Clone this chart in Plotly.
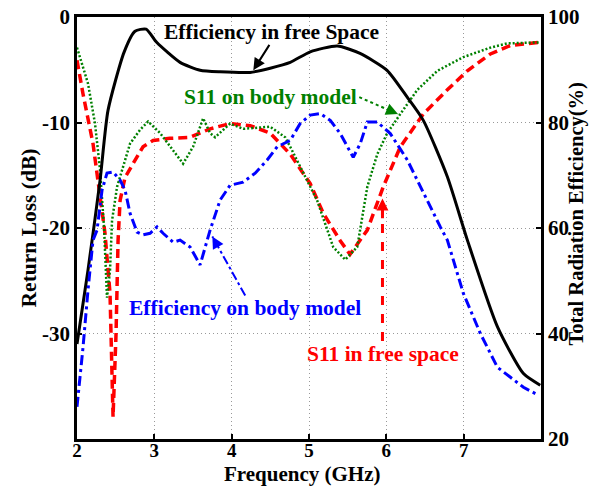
import plotly.graph_objects as go

# Efficiency in free space (%), right axis
eff_free_f = [2.0, 2.142, 2.298, 2.401, 2.608, 2.75, 2.893, 3.03, 3.333, 3.592, 3.85, 4.239, 4.498, 4.757, 5.016, 5.365, 5.66, 6.009, 6.27, 6.478, 6.789, 7.048, 7.436, 7.773, 7.99]
eff_free_v = [38, 52, 69, 82.3, 93.3, 97.3, 97.7, 95.2, 91.4, 89.9, 89.6, 89.5, 90.3, 91.4, 93.4, 94.5, 93.1, 89.9, 84.8, 80.4, 69.7, 57.7, 41.3, 32.4, 30.2]

# S11 in free space (dB), left axis
s11_free_f = [2.0, 2.078, 2.207, 2.298, 2.362, 2.427, 2.466, 2.505, 2.531, 2.557, 2.621, 2.725, 2.854, 2.984, 3.2, 3.463, 3.721, 3.98, 4.239, 4.498, 4.757, 5.016, 5.184, 5.404, 5.53, 5.754, 5.96, 6.181, 6.478, 6.789, 7.048, 7.346, 7.605, 7.993]
s11_free_v = [-4.1, -7.3, -12.0, -16.7, -20.5, -26.2, -37.9, -30.0, -21.2, -17.4, -15.2, -13.9, -12.3, -11.7, -11.5, -11.4, -10.6, -10.1, -10.3, -11.0, -13.0, -15.8, -18.6, -21.2, -22.5, -20.2, -16.1, -12.3, -9.2, -6.9, -5.1, -3.5, -2.7, -2.4]

# S11 on body model (dB), left axis
s11_body_f = [2.0, 2.142, 2.233, 2.298, 2.35, 2.388, 2.427, 2.453, 2.518, 2.595, 2.686, 2.815, 2.919, 3.074, 3.243, 3.372, 3.501, 3.631, 3.721, 3.786, 3.98, 4.149, 4.498, 4.692, 4.757, 5.106, 5.313, 5.468, 5.624, 5.754, 5.883, 6.012, 6.181, 6.401, 6.66, 6.996, 7.346, 7.566, 7.993]
s11_body_v = [-2.9, -6.3, -10.1, -14.5, -20.0, -26.6, -24.0, -19.3, -16.1, -14.2, -12.0, -10.7, -9.9, -11.0, -12.6, -13.9, -12.3, -9.6, -11.0, -11.4, -10.1, -10.6, -10.4, -11.4, -12.3, -17.4, -21.8, -23.0, -21.8, -16.1, -13.0, -11.0, -9.2, -6.9, -5.1, -3.8, -2.9, -2.5, -2.4]

# Efficiency on body model (%), right axis
eff_body_f = [2.0, 2.078, 2.142, 2.207, 2.259, 2.324, 2.388, 2.466, 2.557, 2.621, 2.686, 2.777, 2.854, 2.945, 3.035, 3.113, 3.243, 3.333, 3.463, 3.592, 3.721, 3.851, 3.98, 4.149, 4.304, 4.459, 4.589, 4.757, 4.886, 5.016, 5.145, 5.275, 5.404, 5.572, 5.663, 5.754, 5.883, 6.051, 6.271, 6.478, 6.698, 6.789, 6.996, 7.216, 7.436, 7.605, 7.773, 7.967]
eff_body_v = [26.1, 37.4, 48.2, 57.7, 59.6, 67.2, 70.4, 70.6, 69.1, 67.2, 62.8, 59.2, 58.7, 59.0, 60.2, 59.0, 57.3, 57.7, 56.4, 53.0, 59.6, 65.3, 68.1, 68.7, 70.4, 72.9, 75.4, 76.6, 79.8, 81.4, 81.7, 80.4, 77.9, 73.4, 76.0, 80.1, 80.1, 77.9, 72.9, 66.6, 60.2, 57.7, 47.6, 40.0, 33.6, 31.7, 29.8, 28.3]

x_ticks = [2, 3, 4, 5, 6, 7]
yl_ticks = [0, -10, -20, -30]
yr_ticks = [20, 40, 60, 80, 100]

FONT = "Liberation Serif"
ANN_SIZE = 21.5
RED, GREEN, BLUE = "#ff0000", "#008000", "#0000ff"

fig = go.Figure()
fig.add_trace(go.Scatter(x=eff_free_f, y=eff_free_v, yaxis="y2", mode="lines",
                         line=dict(color="black", width=3, shape="spline", smoothing=0.6)))
fig.add_trace(go.Scatter(x=s11_free_f, y=s11_free_v, mode="lines",
                         line=dict(color=RED, width=3.5, dash="9px,5px")))
fig.add_trace(go.Scatter(x=s11_body_f, y=s11_body_v, mode="lines",
                         line=dict(color=GREEN, width=2.5, dash="2px,2px")))
fig.add_trace(go.Scatter(x=eff_body_f, y=eff_body_v, yaxis="y2", mode="lines",
                         line=dict(color=BLUE, width=3, dash="10px,4px,3px,4px")))

def text_ann(x, y, t, color):
    fig.add_annotation(x=x, y=y, xref="x", yref="y", text="<b>" + t + "</b>", showarrow=False,
                       font=dict(family=FONT, size=ANN_SIZE, color=color))

text_ann(4.51, -1.45, "Efficiency in free Space", "black")
text_ann(4.50, -7.6, "S11 on body model", GREEN)
text_ann(4.175, -27.6, "Efficiency on body model", BLUE)
text_ann(5.96, -31.9, "S11 in free space", RED)

# right-axis title placed as a rotated annotation
fig.add_annotation(x=1.0765, y=0.533, xref="paper", yref="paper", text="<b>Total Radiation Efficiency(%)</b>",
                   textangle=-90, showarrow=False, xanchor="center", yanchor="middle",
                   font=dict(family=FONT, size=20.5, color="black"))
# x-axis title as annotation at the bottom edge
fig.add_annotation(x=0.487, y=-0.1137, xref="paper", yref="paper", text="<b>Frequency (GHz)</b>",
                   showarrow=False, xanchor="center", yanchor="bottom", borderpad=0,
                   font=dict(family=FONT, size=21, color="black"))

# arrows
def arrow(x0, y0, x1, y1, color, dash=None, width=2, headsize=1.2):
    if dash:
        fig.add_shape(type="line", x0=x0, y0=y0, x1=x1, y1=y1, xref="x", yref="y",
                      line=dict(color=color, width=width, dash=dash))
        dx = x1 - x0
        dy = y1 - y0
        fig.add_annotation(x=x1, y=y1, ax=x1 - dx * 0.15, ay=y1 - dy * 0.15, xref="x", yref="y",
                           axref="x", ayref="y", showarrow=True, arrowhead=2, arrowsize=headsize,
                           arrowwidth=width, arrowcolor=color, text="")
    else:
        fig.add_annotation(x=x1, y=y1, ax=x0, ay=y0, xref="x", yref="y", axref="x", ayref="y",
                           showarrow=True, arrowhead=2, arrowsize=headsize, arrowwidth=width,
                           arrowcolor=color, text="")

arrow(4.50, -2.5, 4.28, -5.05, "black", width=2)
arrow(5.65, -7.6, 6.15, -9.2, GREEN, dash="dot", width=2)
arrow(5.95, -30.7, 5.95, -17.2, RED, dash="dash", width=3, headsize=0.8)
arrow(4.175, -26.4, 3.75, -20.8, BLUE, dash="dashdot", width=2)

def bold(vals):
    return ["<b>%s</b>" % v for v in vals]

axis_common = dict(showline=True, linecolor="black", linewidth=2.5, ticks="inside",
                   ticklen=5, tickwidth=1.5, tickcolor="black", zeroline=False,
                   tickfont=dict(family=FONT, size=21, color="black"))

fig.update_layout(
    width=594, height=487,
    margin=dict(l=77, r=53, t=17, b=48),
    plot_bgcolor="white", paper_bgcolor="white",
    showlegend=False,
    font=dict(family=FONT, color="black"),
    xaxis=dict(range=[2, 8], tickvals=x_ticks, ticktext=bold(x_ticks), mirror=True, showgrid=True,
               gridcolor="#999999", gridwidth=1, griddash="1px,3px", ticklabelstandoff=-8,
               automargin=False, **{**axis_common, "tickfont": dict(family=FONT, size=19, color="black")}),
    yaxis=dict(range=[-40, 0], tickvals=yl_ticks, ticktext=bold(yl_ticks), showgrid=True,
               gridcolor="#999999", gridwidth=1, griddash="1px,3px",
               title=dict(text="<b>Return Loss (dB)</b>", font=dict(family=FONT, size=21.5), standoff=0),
               automargin=False, **axis_common),
    yaxis2=dict(range=[20, 100], tickvals=yr_ticks, ticktext=bold(yr_ticks), overlaying="y", side="right",
                showgrid=False, automargin=False, **axis_common),
)

fig.write_html("out.html")
